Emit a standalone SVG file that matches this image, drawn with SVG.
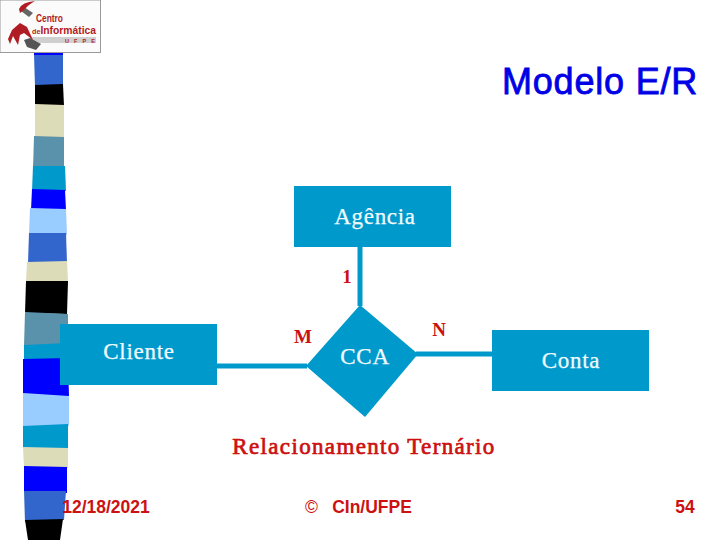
<svg xmlns="http://www.w3.org/2000/svg" width="720" height="540" viewBox="0 0 720 540">
<style>
.node{fill:#0099cc}
.conn{stroke:#0099cc;stroke-width:5;fill:none}
.lbl{font-family:"Liberation Serif",serif;font-size:23px;fill:#f2fbff;stroke:#f2fbff;stroke-width:.25;letter-spacing:.7px}
.card{font-family:"Liberation Serif",serif;font-size:19px;font-weight:bold;fill:#cc1111}
.foot{font-family:"Liberation Sans",sans-serif;font-size:17.500px;font-weight:bold;fill:#cc1111}
.logo{font-family:"Liberation Sans",sans-serif;font-weight:bold;fill:#b01c24}
</style>
<rect width="720" height="540" fill="#fff"/>
<g id="strip">
<path d="M34 53H63V56H34Z" fill="#0000ff"/>
<path d="M34 55H63L63 85L35 86Z" fill="#3366cc"/>
<path d="M35 85L63 84L64 106L35 106Z" fill="#000"/>
<path d="M35 104L64 105V138H35Z" fill="#dddcb8"/>
<path d="M34 136L64 137V168H33Z" fill="#5b92ab"/>
<path d="M33 166H65L66 191H32Z" fill="#0099cc"/>
<path d="M32 189L65 190L66 210H31Z" fill="#0000ff"/>
<path d="M30 208L66 209L67 235L29 235Z" fill="#99ccff"/>
<path d="M29 233L66 233L67 263L28 263Z" fill="#3366cc"/>
<path d="M27 262L67 261L68 282H26Z" fill="#dddcb8"/>
<path d="M26 281H68L67 314L25 313Z" fill="#000"/>
<path d="M25 312L68 314V345L24 346Z" fill="#5b92ab"/>
<path d="M24 345L68 343V361L24 360Z" fill="#0099cc"/>
<path d="M23 359L68 358L69 397L23 395Z" fill="#0000ff"/>
<path d="M23 393L69 396V426L23 428Z" fill="#99ccff"/>
<path d="M23 426L68 424V448L23 448Z" fill="#0099cc"/>
<path d="M23 447L68 448V468L24 467Z" fill="#dddcb8"/>
<path d="M24 466L67 467V493L24 492Z" fill="#0000ff"/>
<path d="M24 491L66 491L64 520L25 522Z" fill="#3366cc"/>
<path d="M25 520L63 519L60 540H28Z" fill="#000"/>
</g>
<g id="logo">
<rect x="0" y="0" width="100.500" height="52.500" fill="#fbfbfb" stroke="#999"/>
<path d="M24 7L33 13L29 17L21 11Z" fill="#666"/>
<path d="M19 9Q22 2 35 1Q28 5 25 9L20 13Z" fill="#b01c24"/>
<rect x="30" y="37" width="66" height="6" fill="#cfcfcf"/>
<path d="M24 40L30 38L41 44L36 50L27 47Z" fill="#555"/>
<path d="M8 39L12 30L20 23L27 27L33 40L24 33L20 35L18 45L13 36L10 44Z" fill="#b01c24"/>
<text class="logo" x="36" y="22" font-size="10.500" textLength="27" lengthAdjust="spacingAndGlyphs">Centro</text>
<text class="logo" x="32" y="34" font-size="11.500" textLength="64" lengthAdjust="spacingAndGlyphs"><tspan font-size="8">de</tspan>Informática</text>
<text class="logo" x="65" y="43" font-size="5.500" textLength="30">UFPE</text>
</g>
<g id="connectors">
<line class="conn" x1="360" y1="246" x2="360" y2="306"/>
<line class="conn" x1="217" y1="366" x2="307" y2="366"/>
<line class="conn" x1="416" y1="354" x2="492" y2="354"/>
</g>
<g id="agencia">
<rect class="node" x="294" y="186" width="157" height="61"/>
<text class="lbl" x="375" y="224" text-anchor="middle">Agência</text>
</g>
<g id="cliente">
<rect class="node" x="60" y="324" width="157" height="61"/>
<text class="lbl" x="139" y="359" text-anchor="middle">Cliente</text>
</g>
<g id="conta">
<rect class="node" x="492" y="330" width="157" height="61"/>
<text class="lbl" x="571" y="368" text-anchor="middle">Conta</text>
</g>
<g id="cca">
<path class="node" d="M360 305L418 354L365 417L306 366Z"/>
<text class="lbl" x="365" y="364" text-anchor="middle">CCA</text>
</g>
<text class="card" x="347" y="283" text-anchor="middle">1</text>
<text class="card" x="303" y="343" text-anchor="middle">M</text>
<text class="card" x="439" y="336" text-anchor="middle">N</text>
<text x="364" y="454" text-anchor="middle" font-family="'Liberation Serif',serif" font-size="23" letter-spacing="1.350" fill="#cc1111" stroke="#cc1111" stroke-width=".7">Relacionamento Ternário</text>
<text x="600" y="94" text-anchor="middle" font-family="'Liberation Sans',sans-serif" font-size="36" letter-spacing=".8" fill="#0000e6" stroke="#0000e6" stroke-width=".8">Modelo E/R</text>
<text class="foot" x="106" y="513" text-anchor="middle">12/18/2021</text>
<text class="foot" x="305" y="513" style="font-weight:normal">©</text>
<text class="foot" x="372" y="513" text-anchor="middle">CIn/UFPE</text>
<text class="foot" x="685" y="513" text-anchor="middle">54</text>
</svg>
